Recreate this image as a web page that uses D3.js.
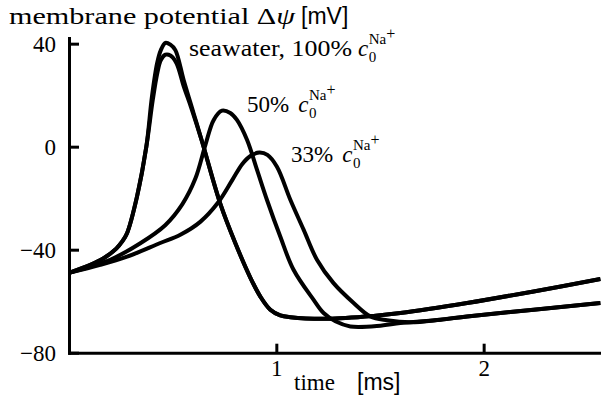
<!DOCTYPE html>
<html>
<head>
<meta charset="utf-8">
<script src="https://cdn.jsdelivr.net/npm/d3@7/dist/d3.min.js"></script>
<style>
  html, body { margin: 0; padding: 0; background: #fff; }
  svg { display: block; }
  text { font-family: "Liberation Serif", "Times New Roman", "DejaVu Serif", serif; fill: #000; }
  .sans { font-family: "Liberation Sans", "DejaVu Sans", sans-serif; }
</style>
</head>
<body>
<svg id="chart" width="601" height="399"></svg>
<script>
// Action potentials computed for different external sodium concentrations.
// Each series: [time in ms, membrane potential in mV].
const timeTicks = [1, 2];
const potentialTicks = [40, 0, -40, -80];

const seawaterA = [
  [0.000, -49.0], [0.103, -45.9], [0.167, -43.3], [0.228, -39.6], [0.255, -37.0],
  [0.280, -33.6], [0.328, -19.4], [0.373, 0.0], [0.400, 19.4], [0.425, 32.4],
  [0.443, 37.5], [0.465, 40.3], [0.489, 39.6], [0.513, 37.5], [0.553, 25.9],
  [0.601, 13.0], [0.642, 1.9], [0.730, -22.2], [0.802, -37.4], [0.875, -50.9],
  [0.923, -58.2], [0.971, -63.3], [1.019, -65.5], [1.068, -66.2], [1.245, -66.8],
  [1.469, -65.7], [1.598, -64.6], [1.920, -60.7], [2.241, -56.2], [2.563, -51.4]
];

const seawaterB = [
  [0.000, -49.0], [0.103, -45.9], [0.167, -43.3], [0.228, -39.6], [0.255, -37.0],
  [0.280, -33.6], [0.328, -19.4], [0.373, 0.0], [0.404, 18.1], [0.426, 28.6],
  [0.443, 33.6], [0.465, 35.7], [0.489, 35.4], [0.518, 32.5], [0.553, 23.5],
  [0.590, 15.0], [0.642, 1.9], [0.730, -22.2], [0.802, -37.4], [0.875, -50.9],
  [0.923, -58.2], [0.971, -63.3], [1.019, -65.5], [1.068, -66.2], [1.245, -66.8],
  [1.469, -65.7], [1.598, -64.6], [1.920, -60.7], [2.241, -56.2], [2.563, -51.4]
];

const sodium50 = [
  [0.000, -49.0], [0.199, -43.9], [0.344, -37.5], [0.464, -30.5], [0.547, -22.3],
  [0.609, -12.5], [0.658, 0.7], [0.698, 10.4], [0.738, 14.0], [0.778, 13.1],
  [0.810, 10.4], [0.859, 2.6], [0.907, -9.0], [0.955, -20.7], [1.019, -34.9],
  [1.083, -47.8], [1.180, -59.5], [1.228, -64.6], [1.285, -67.8], [1.357, -69.8],
  [1.502, -69.5], [1.598, -68.5], [1.791, -67.2], [1.920, -65.9], [2.241, -63.3],
  [2.563, -60.7]
];

const sodium33 = [
  [0.000, -49.0], [0.151, -45.9], [0.280, -42.7], [0.440, -37.4], [0.537, -34.2],
  [0.633, -29.2], [0.720, -21.6], [0.788, -12.9], [0.836, -6.7], [0.875, -3.6],
  [0.918, -2.3], [0.957, -3.2], [1.003, -7.8], [1.068, -20.7], [1.132, -32.3],
  [1.196, -43.9], [1.276, -53.0], [1.373, -60.7], [1.453, -65.9], [1.534, -67.4],
  [1.646, -68.2], [1.791, -67.2], [1.920, -65.9], [2.241, -63.3], [2.563, -60.7]
];

const series = [seawaterA, seawaterB, sodium50, sodium33];

const svg = d3.select("#chart");

const x = d3.scaleLinear().domain([0, 2.566]).range([69, 601]);
const y = d3.scaleLinear().domain([-80, 42.2]).range([352.7, 38]);

const FONT = 23;
const SERIF = '"Liberation Serif", "Times New Roman", "DejaVu Serif", serif';

// Axes: ticks point inward
const xAxis = svg.append("g")
  .attr("transform", `translate(0,${y(-80)})`)
  .call(d3.axisBottom(x).tickValues(timeTicks).tickFormat(d3.format("d"))
    .tickSizeInner(-9).tickSizeOuter(0).tickPadding(7));

const yAxis = svg.append("g")
  .attr("transform", `translate(${x(0)},0)`)
  .call(d3.axisLeft(y).tickValues(potentialTicks).tickFormat(d3.format("d"))
    .tickSizeInner(-10).tickSizeOuter(0).tickPadding(13));

[xAxis, yAxis].forEach(g => {
  g.attr("font-family", null).attr("font-size", null);
  g.selectAll("path.domain").attr("stroke-width", 3).attr("stroke-linecap", "square");
  g.selectAll(".tick line").attr("stroke-width", 3);
  g.selectAll(".tick text").style("font-family", SERIF).style("font-size", FONT + "px");
});

// Potential traces
const line = d3.line()
  .x(d => x(d[0]))
  .y(d => y(d[1]))
  .curve(d3.curveCatmullRom.alpha(0.5));

svg.append("g").selectAll("path")
  .data(series)
  .join("path")
  .attr("d", line)
  .attr("fill", "none")
  .attr("stroke", "#000")
  .attr("stroke-width", 4)
  .attr("stroke-linejoin", "round");

// Axis titles
const title = svg.append("text").attr("x", 9).attr("y", 24).style("font-size", FONT + "px")
  .attr("textLength", 286).attr("lengthAdjust", "spacingAndGlyphs");
title.append("tspan").text("membrane potential Δ");
title.append("tspan").attr("font-style", "italic").text("ψ");
svg.append("text").attr("class", "sans").attr("x", 301).attr("y", 24)
  .style("font-size", FONT + "px").text("[mV]");

svg.append("text").attr("x", 294).attr("y", 390).style("font-size", FONT + "px").text("time");
svg.append("text").attr("class", "sans").attr("x", 357).attr("y", 390)
  .style("font-size", FONT + "px").text("[ms]");

// Concentration labels: "<prefix> c_0^{Na+}" built as one text element
function measure(str, size, italic) {
  const t = svg.append("text").style("font-size", size + "px")
    .attr("font-style", italic ? "italic" : null).text(str);
  const w = t.node().getComputedTextLength();
  t.remove();
  return w;
}

function concLabel(px, py, prefix, width, gap) {
  const wPrefix = width || measure(prefix, FONT);
  const t = svg.append("text").attr("x", px).attr("y", py).style("font-size", FONT + "px");
  const p = t.append("tspan").text(prefix);
  if (width) p.attr("textLength", width).attr("lengthAdjust", "spacingAndGlyphs");
  const cx = px + wPrefix + gap;
  t.append("tspan").attr("x", cx).attr("y", py).attr("font-style", "italic").text("c");
  const sx = cx + measure("c", FONT, true) + 0.5;
  t.append("tspan").attr("x", sx).attr("y", py + 6).style("font-size", "15px").text("0");
  t.append("tspan").attr("x", sx).attr("y", py - 12).style("font-size", "15px").text("Na");
  const px2 = sx + measure("Na", 15);
  t.append("tspan").attr("x", px2).attr("y", py - 17).style("font-size", "16px").text("+");
}

concLabel(189, 56, "seawater, 100%", 163, 6);
concLabel(247, 112, "50%", null, 9);
concLabel(291, 162, "33%", null, 9);
</script>
</body>
</html>
